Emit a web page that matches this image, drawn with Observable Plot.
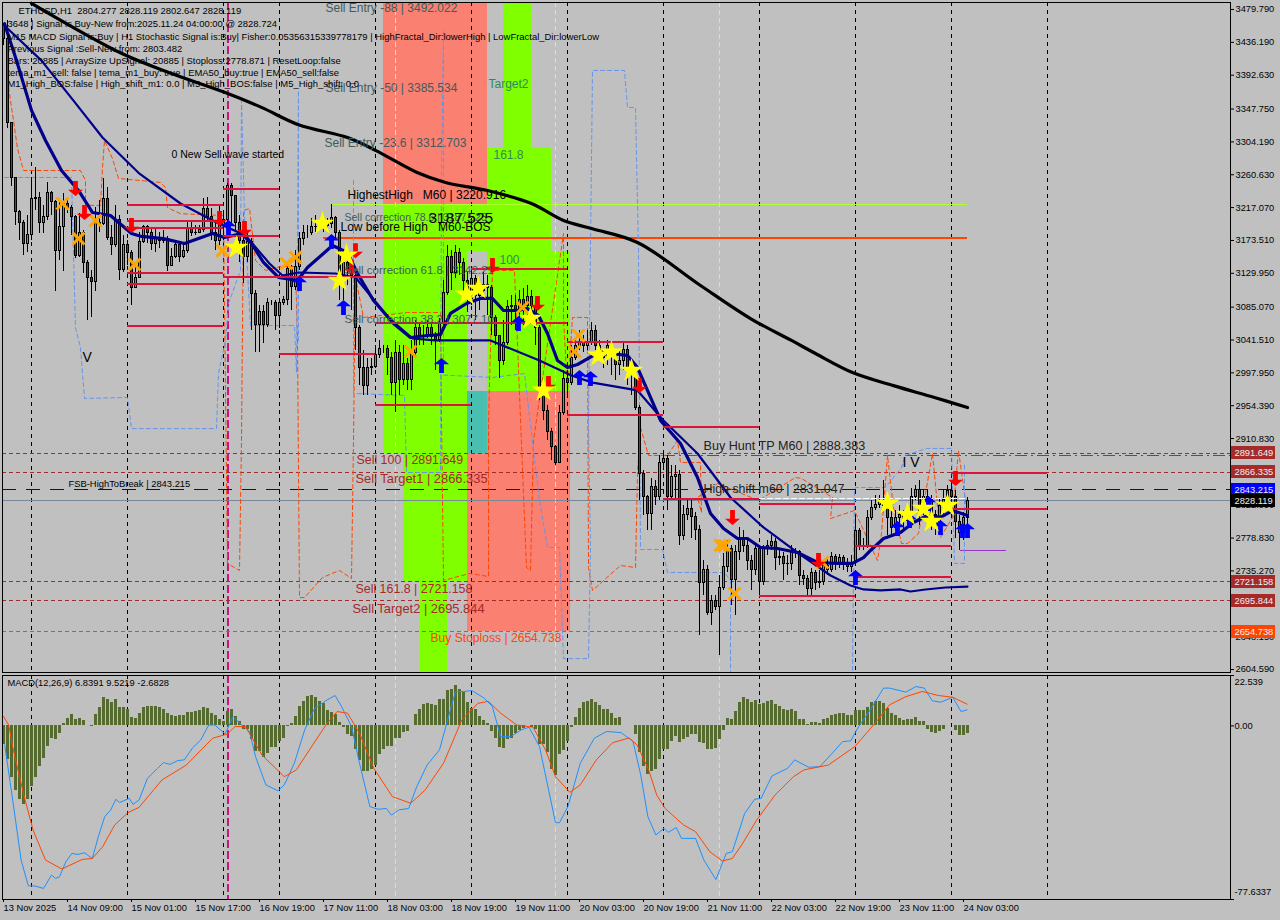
<!DOCTYPE html>
<html><head><meta charset="utf-8">
<script src="https://cdn.jsdelivr.net/npm/d3@7"></script>
<script src="https://cdn.jsdelivr.net/npm/@observablehq/plot@0.6"></script>
<style>
html,body{margin:0;padding:0;background:#c0c0c0;width:1280px;height:920px;overflow:hidden}
svg{display:block}
</style></head><body><div id="main"></div><div id="macd"></div>
<script>
const closes=[3441,3329,3256,3211,3196,3169,3181,3228,3230,3197,3205,3236,3225,3160,3191,3222,3216,3204,3153,3183,
3143,3124,3119,3197,3195,3229,3177,3167,3200,3134,3168,3157,3111,3124,3172,3191,3183,3169,3177,3173,
3176,3140,3152,3167,3151,3159,3189,3183,3184,3187,3215,3205,3184,3173,3193,3200,3246,3233,3197,3173,
3151,3171,3103,3061,3079,3061,3090,3090,3073,3090,3094,3136,3112,3138,3175,3184,3184,3191,3192,3192,
3193,3195,3203,3183,3123,3144,3134,3127,3058,3005,2981,3005,3006,3022,3030,3030,3017,2984,3024,2988,
3010,2988,3024,3058,3047,3047,3057,3045,3041,3063,3104,3151,3130,3157,3144,3120,3096,3123,3100,3107,
3114,3110,3071,3047,3014,3038,3085,3087,3078,3094,3087,3099,3087,3058,2975,2948,2920,2899,2879,2945,
2990,2984,3018,3034,3038,3034,3038,3053,3033,3028,3017,3034,3021,3008,3013,3028,3005,2994,2952,2864,
2833,2811,2847,2833,2879,2884,2833,2860,2862,2781,2809,2818,2807,2789,2719,2737,2680,2696,2687,2713,
2740,2765,2723,2760,2778,2769,2749,2736,2764,2720,2764,2769,2773,2752,2754,2745,2744,2760,2760,2729,
2725,2711,2733,2719,2720,2742,2736,2754,2746,2752,2746,2740,2746,2788,2769,2769,2806,2819,2823,2827,
2822,2806,2792,2805,2810,2802,2809,2833,2842,2815,2833,2829,2809,2793,2822,2829,2841,2833,2800,2786,
2805,2828.119];
const highs=[3459,3465,3329,3256,3213,3200,3207,3257,3270,3237,3220,3250,3238,3226,3226,3236,3226,3220,3207,3209,
3187,3147,3134,3217,3226,3256,3244,3193,3220,3207,3180,3173,3160,3140,3184,3193,3193,3189,3189,3184,
3187,3179,3163,3173,3168,3168,3197,3197,3193,3193,3229,3230,3216,3200,3220,3211,3249,3249,3233,3207,
3180,3187,3176,3107,3087,3087,3096,3094,3094,3096,3099,3144,3140,3160,3184,3193,3193,3203,3207,3200,
3207,3203,3221,3205,3187,3160,3153,3144,3136,3061,3028,3017,3017,3034,3041,3034,3034,3025,3041,3034,
3034,3017,3041,3067,3065,3061,3067,3065,3051,3070,3120,3167,3160,3167,3163,3150,3131,3134,3127,3120,
3131,3127,3114,3074,3047,3067,3094,3100,3100,3107,3110,3114,3107,3094,3061,2977,2955,2924,2902,2955,
3001,2998,3034,3043,3054,3047,3054,3065,3061,3041,3028,3041,3034,3028,3028,3038,3034,3012,2988,2955,
2868,2835,2858,2855,2888,2895,2888,2875,2875,2868,2822,2829,2829,2813,2796,2749,2742,2703,2703,2729,
2758,2776,2769,2769,2793,2789,2776,2756,2769,2769,2769,2776,2782,2778,2765,2760,2756,2769,2765,2762,
2736,2729,2738,2736,2736,2749,2752,2760,2757,2757,2756,2752,2756,2809,2792,2778,2815,2829,2835,2835,
2855,2829,2815,2815,2822,2815,2822,2845,2849,2855,2842,2842,2835,2815,2831,2842,2849,2855,2842,2809,
2813,2832];
const lows=[3432,3322,3245,3193,3173,3153,3157,3173,3213,3183,3183,3200,3207,3106,3147,3132,3209,3180,3150,3151,
3130,3067,3071,3106,3184,3193,3173,3153,3164,3120,3131,3140,3087,3110,3123,3169,3169,3160,3157,3163,
3169,3132,3139,3150,3144,3150,3156,3179,3180,3184,3184,3197,3173,3160,3167,3173,3193,3193,3187,3144,
3116,3144,3054,3025,3025,3037,3058,3087,3054,3057,3087,3087,3081,3107,3134,3167,3176,3180,3184,3187,
3184,3189,3189,3173,3094,3094,3114,3081,3028,2981,2968,2968,2994,3004,3017,3024,2994,2968,2945,2968,
2981,2975,2975,3021,3034,3034,3043,3034,3001,3038,3054,3100,3107,3123,3127,3094,3078,3087,3067,3081,
3100,3074,3047,3034,2990,3008,3034,3061,3054,3070,3061,3067,3067,3034,2961,2935,2908,2882,2875,2879,
2941,2968,2981,3014,3028,3025,3028,3034,3028,3017,3004,3008,2994,2988,2994,3001,2981,2968,2948,2829,
2809,2789,2789,2822,2829,2868,2815,2829,2829,2769,2776,2802,2778,2776,2650,2703,2676,2663,2683,2623,
2709,2733,2689,2676,2749,2760,2736,2709,2729,2703,2716,2756,2762,2736,2742,2723,2729,2736,2752,2716,
2716,2703,2703,2709,2712,2716,2729,2733,2736,2738,2736,2733,2733,2742,2762,2762,2765,2802,2815,2818,
2815,2782,2782,2789,2796,2789,2796,2802,2829,2796,2809,2796,2789,2782,2796,2809,2815,2815,2778,2762,
2776,2796];

const macdHist=[-8.5,-15,-23,-29,-33,-35,-33,-27,-23,-18,-14.5,-9,-5.5,-6,-3.6,1,3.4,5,3,3.3,
2.4,.4,-.3,5,8.4,12.5,11.6,10.4,12,8.2,8.2,7.2,3.7,3.3,5.7,8.2,8.5,8.5,8.5,8.4,
7.5,5.4,4.8,4.2,4.8,4.5,5.8,6,6.3,6.9,8.4,7.8,5.4,4.8,2.7,2,6.4,7.2,4.2,2,
-1.5,-1.8,-6.3,-11.5,-11.5,-14,-12.5,-9.5,-9.5,-7,-5.5,-.3,1.2,4.2,8.7,11,13,13.4,12.8,11,
10,7,6,5,1.5,-.6,-4,-4.8,-10.4,-15.5,-20.4,-20.4,-19.4,-17.5,-13,-10.7,-9,-9,-5.8,-5.5,
-3,-2.5,.4,5,7.5,9.5,9.8,9.5,9,11.6,11.6,15.8,16.4,18,16.4,15,10.4,8,7.2,4.2,
2.4,1.2,-2.5,-5.8,-9.5,-10.3,-6.3,-5.5,-3.3,-2,-1,.4,-.6,-1.5,-8.5,-8.5,-12,-19.4,-22,-13,
-11,-7,-.6,3.9,8,10.4,11,12,10.4,9,7.5,7.5,5.4,3.4,3.7,.4,.4,0,-3.7,-12,
-18,-21.6,-20.4,-19.7,-15.2,-10.7,-10.4,-7,-4.8,-7.5,-6.3,-5.2,-4,-4,-7.5,-8,-10.4,-10.4,-10.3,-6.3,
-2.2,3.4,3,6.6,10.4,12.5,12,10.4,11.2,9.4,10,10.7,11.2,9.5,8.7,7.2,6.7,7.2,6.6,3,
3,.7,1.6,1.5,.9,2.7,3.1,4.6,5,5.4,5.4,4.5,4.5,6.7,6.7,6.7,8.4,10.4,10.7,10.7,
10,8,5.4,4.5,3.1,2.5,2.7,3,3.7,2,1.8,-1.5,-3,-3.6,-2.7,-1.8,0,.3,-2.2,-4.5,
-4.2,-3.3];

const macdBars=[.3,2.3,4.4,6.2,7.9,10,12,13,14,15.6,17.1,18.6,20.2,22.2,23.7,25.3,26.8,28.1,29,31.4,32.4,33.9,36,38.5,40,41.6,43.6,45.2,47.2,49.3,51.3,52.8,55.4,57.4,59.5,61.5,63,65.6,68.6,70.2,72.7,75.3,77.8,80.9,82.9,84.5,87,89,91.6,93.6,95.7,97,98.8,101.3,103.3,105.9,109,111.5,113,115.1,117.1,120.2,122.2,124.3,126.8,129.4,131.4,134,138,139,141.1,144.2,147.7,150.8,154.4,157.4,159.3,161.1,163.1,165.1,166.2,168.2,169.5,173,175.1,178.1,180.7,182.2,185.3,187.8,189.4,192.1,196,197.8,201.3,204.1,207.2,209.8,211.8,213.8,216.4,220,221.5,225.6,228.1,230.2,232.2,234.3,237.3,239.4,240.9];
const macdVals=[-8.5,-33.1,-60,-71.5,-71.6,-72.7,-66.7,-68.2,-67.5,-60.7,-57,-57.5,-56.7,-59.3,-49.6,-40.6,-37.6,-32.8,-34.3,-32.4,-35.1,-33.1,-23.4,-19,-16.4,-17.2,-15.5,-15.2,-10,-6.3,.4,.4,-3.6,4.2,.4,-2.5,-13.7,-26.4,-29,-26.4,-16.7,-1.8,7.9,11.6,13.6,8.7,-.3,-16.7,-36.1,-37.3,-36.9,-39.9,-37.6,-36.9,-27.2,-17.5,-10.7,5.7,15.4,15.4,15.8,12.4,8.7,-4.8,-4.8,-1.8,-.6,-9.3,-43.3,-43.3,-36.1,-16.7,-5.5,-2.5,-3,-7,-21.9,-40.6,-48.8,-45.8,-47.6,-45.5,-50.3,-50.3,-60,-68.7,-57,-56.3,-39.1,-32.8,-32.4,-22.4,-19,-15.2,-18.5,-18.2,-12.2,-7,-6.7,-.3,6.4,16.9,16.9,15.1,17.6,16.9,11.2,10.6,12.8,6.4,7.2];
const signalBars=[0,1.3,2.3,3.8,5.4,7.4,10.5,14.6,19.7,22.2,24.8,27.8,31.1,33.9,39.6,45.7,52.3,55.9,57.9,60.5,64.6,70.2,73.2,77.3,80.9,83.4,86,89,92.6,97.2,101.8,105.4,110,114.6,118.6,121.2,124.3,128.3,132.4,135.5,138,141.6,144.2,148.2,152.3,156.4,158.4,161.3,163.3,165.4,170,173,176.6,179.7,182.2,184.8,188.3,192.9,197.5,200.1,206.2,212.8,217.9,221.5,225.6,229.7,233.7,237.3,240.9];
const signalVals=[4.2,.4,-9.3,-21.2,-33.1,-46.6,-60,-64,-59.7,-59.3,-54,-44.3,-38.8,-36.4,-24.2,-17.5,-5.5,-3.7,-.3,-.3,-13,-22.7,-19.7,-8.5,1.2,6.4,5.7,-3.3,-19,-31.6,-34.6,-28.7,-16.7,2.7,10.1,11,5.7,.4,-.6,-10.7,-22.7,-29.7,-26.4,-15.2,-7.5,-5.4,-8.5,-19.7,-30.9,-36.9,-44.3,-47.3,-56.3,-60.4,-59.3,-52.5,-42.1,-30.9,-22.7,-19.7,-17.5,-9.3,1.2,9.4,13.1,15.4,13.6,12.8,9.7];

const longMaBars=[7,29.75,42,55.25,64.5,73.75,86,93,103.25,110.5,120.75,132,140,147.25,158.5,174.25,186.75,197,203,212.25,222.5,232.75,241];
const longMaVals=[3488,3421,3395,3370,3350,3327,3310,3293,3264,3250.4,3240,3222.5,3200,3189,3170.8,3113.8,3070,3040.9,3023.6,2998.4,2981,2965.3,2952];
const midMaBars=[.75,9.5,17.5,24.75,34,44.25,53.25,60.5,66.5,69.75,73.75,83,88,96.25,102.25,107.75,121.75,134,142,147.25,158.5,165,173.5,181.75,190,198.5,206.75,211.75,215,219.25,224.25,226.75,230.5,235.5,241];
const midMaVals=[3456,3412,3359,3310,3262,3222.5,3197.3,3180,3143,3127,3131,3129.7,3124.4,3071.4,3043.5,3040.9,3040.9,3014.3,2994.5,2985,2974.6,2934.8,2891,2832.7,2793,2759.7,2729.2,2716,2710.7,2709.4,2710.7,2708,2710.7,2713.3,2714.6];
const fastMaBars=[.25,3.25,7,10.5,14.5,18.75,22.25,26.75,32,34.5,40,45.25,52.25,55.25,59.5,62,65,68.75,73.5,76,82.25,86,88.5,92.5,97.5,101.75,106,109.25,111.75,115.75,119.25,122.25,125,128.5,131,133.75,136,138.5,141,143.5,147.5,151.75,156,158.5,161,164.25,169.25,173.5,176.75,180,183.5,186,189.25,193.5,198.5,203.5,208.5,212.25,215,216.75,220,224.25,227.5,231,234.25,237.25,241];
const fastMaVals=[3461,3412,3346,3306,3266.3,3239.8,3210.6,3206.6,3182.7,3178.8,3176,3169.5,3182.7,3177.4,3182.7,3169.5,3144.3,3124.4,3120.4,3137.6,3166.8,3157.5,3129.7,3093.9,3063.4,3044.8,3047.5,3048.8,3076.7,3089.9,3096.6,3096.6,3080.6,3080.6,3083.3,3074,3050.1,3014.3,3005,3009,3021,3023.6,3021,3005,2974.6,2934.8,2904.3,2859.2,2811.4,2791.6,2778.3,2778.3,2766.4,2765,2759.7,2746.5,2745.2,2745.2,2753,2762.4,2778.3,2786.3,2799.5,2808.8,2806.2,2815.4,2808.8];
const orangeBars=[1,1.75,2.5,3.5,5,19.25,20.5,20.5,24.25,24.75,25.25,27.25,28.75,39.25,40.5,41,44.25,55,56,59,59.5,60,61.5,63,65.5,69.25,73,73.5,74,75.25,79.75,84,87,87.5,88,90,101,109.25,109.5,110,116.5,121.25,121.25,122.25,127.75,130.75,131.75,132.5,140,140,141,142.25,146,146.25,147.25,154.25,158,158.5,159.25,161.25,166,168.5,169.25,174.25,174.5,173.5,178.5,188.75,198,199.5,207.25,206.75,212.75,218.5,219.5,221,222.5,224.5,226,228.75,232.25,234.25,237.25,238.75,240.75];
const orangeVals=[3385.6,3359,3332.6,3295.5,3266.3,3266.3,3253,3220,3220,3270,3306,3282,3255.7,3250.4,3243.7,3217,3209,3206.6,2745,2735.9,2908.3,3213.2,3215.9,3147,3133.7,3139,3139,3040.9,2700,2700,2726.6,2735.9,2725.3,2908.3,3124.4,3071.4,3078,3078,2938.8,2722.6,2731.9,2727.9,2930.8,3133.7,3133.7,2739.8,2735.9,2908.3,3182.7,3071.4,2974.6,3071.4,3071.4,2739.8,2709.4,2742.5,2739.8,2864.5,2925.5,2888.4,2888.4,2908.3,2879,2879,2812.8,2832.7,2851.2,2828.7,2859.2,2857.9,2832.7,2804.8,2815.4,2749,2784.9,2888.4,2819.4,2771.7,2771.7,2784.9,2891,2779.6,2806.2,2895,2819.4];
const blueStepBars=[.25,17,17.5,18,19.25,20.25,31,32,53.25,53.75,55.5,56.25,59.25,59.5,60.25,61.75,72.75,73.25,73.75,73.75,null,87.5,87.5,100.25,100.75,109.25,109.5,110,110,122.25,130.25,134,136,139,140,146.25,146.75,146.25,147.25,155.25,156,158,158.75,159.25,164.75,166,180.25,181.75,181.75,null,212.25,212.75,213,220.5,224.5,225.5,230.75,237,237.75,240.25,240.25];
const blueStepVals=[3257,3257,3156.2,3058,3031.6,2964,2965.3,2924,2924,2997,3040.9,3090,3133.7,3359,3206.6,3060.7,3060.7,2998.4,3372.4,3040.9,null,3253,2970.6,2967.9,2865.8,2865.8,3259.7,3452,2995,2991.8,2997,2828.7,2766.4,2766.4,2619,2619,2766.4,2930.8,3398.9,3398.9,3349.8,3349.8,3160,2763.7,2763.7,2733.2,2733.2,2722.6,2600.6,null,2603.3,2841.9,2845.9,2845.9,2872.4,2888.4,2897.7,2897.7,2745.2,2745.2,2877.7];

const zoneBar1=[95,100,104.25,95,116,121,116,116,121,125,121,100];
const zoneBar2=[121,116,111,100,121,141.75,141.75,121,137,132,141.75,116];
const zoneHigh=[3489,3220.9,2721.158,3220.9,3220.9,2973,2891.649,2973,3295.5,3489,3159,2891.649];
const zoneLow=[3220.9,2721.158,2600.6,2891.649,3159,2891.649,2654.738,2891.649,3159,3295.5,2973,2721.158];
const zoneKind=["sell","buy","buy","buy","buy","sell","sell","both","buy","buy","buy","buy"];

const dayBars=[7,31,55,69,93,117,141,165,189,213,237,261];
const cyanBars=[98,138,179];
const magentaBars=[56];

const segStart=[31,31,31,31,31,31,55,55,55,69,93,93,117,141,141,165,165,189,189,213,213,237,237];
const segEnd=[55,55,55,55,55,55,69,69,93,93,117,141,141,165,165,189,189,213,213,237,237,261,261];
const segPrice=[3220,3198.7,3189.4,3129.7,3116.4,3060.7,3242.4,3178.8,3125.7,3023.6,2954.7,3063.4,3136.3,3038.2,2942.7,2925.5,2831.3,2824.7,2702.7,2767.7,2726.6,2865.8,2816.8];

const starBars=[79.75,58.25,85.75,84,118.75,115.75,131.75,135,148.75,152,157,221,226,230,232,236];
const starVals=[3196,3164,3153.6,3120.4,3109.8,3101.9,3070,2974.6,3021,3025,3001,2824.7,2810,2818,2800.8,2822];
const crossBars=[14.75,18.75,23,32.75,54.75,70.75,73,101.75,129.75,143.75,142.75,180.25,179.25,182.75,204.75];
const crossVals=[3222.5,3176,3200,3141.6,3160,3143,3151,3026.3,3084.6,3047.5,3026.3,2769,2769,2705.4,2746.5];
const downBars=[18,20.25,32,54,60.25,88,87,122.25,133.5,136.25,159,182.25,203.75,238];
const downVals=[3242.4,3210.6,3193.4,3202.6,3189.4,3160,3137.6,3140.3,3090,2983.8,2981.2,2806.2,2749,2857.9];
const upBars=[56.25,74,82,85,109.5,128.75,144,146.75,213,223.5,226.5,231.25,234.25,241,239.75];
const upVals=[3190.7,3116.4,3172,3084.6,3007.7,3063.4,2991.8,2990.5,2726.6,2791.6,2802,2824.7,2793,2789,2789];

const priceTicks=[3479.79,3436.19,3392.63,3347.75,3304.19,3260.63,3217.07,3173.51,3129.95,3085.07,3041.51,2997.95,2954.39,2910.83,2866.27,2822.99,2778.83,2735.27,2691.71,2648.15,2604.59];
const boxPrices=[2891.649,2866.335,2843.215,2828.119,2721.158,2695.844,2654.738];
const boxColors=["#a52a2a","#a52a2a","#0000ff","#000000","#a52a2a","#a52a2a","#ff4500"];
const timeLabels=["13 Nov 2025","14 Nov 09:00","15 Nov 01:00","15 Nov 17:00","16 Nov 19:00","17 Nov 11:00","18 Nov 03:00","18 Nov 19:00","19 Nov 11:00","20 Nov 03:00","20 Nov 19:00","21 Nov 11:00","22 Nov 03:00","22 Nov 19:00","23 Nov 11:00","24 Nov 03:00"];

const infoLines=["ETHUSD,H1  2804.277 2828.119 2802.647 2828.119","3648 | Signal is Buy-New from:2025.11.24 04:00:00 @ 2828.724","M15 MACD Signal is:Buy | H1 Stochastic Signal is:Buy| Fisher:0.05356315339778179 | HighFractal_Dir:lowerHigh | LowFractal_Dir:lowerLow","Previous Signal :Sell-New from: 2803.482","Bars: 20885 | ArraySize UpSignal: 20885 | Stoploss:2778.871 | ResetLoop:false","tema_m1_sell: false | tema_m1_buy: true | EMA50_buy:true | EMA50_sell:false","M1_High_BOS:false | High_shift_m1: 0.0 | M5_High_BOS:false | M5_High_shift: 0.0"];
const infoBars=[3.75,1,1,1,1,1,1];
const infoVals=[3478.4,3461,3444,3428,3412,3396,3381.6];

const labelText=["Sell Entry -88 | 3492.022","Sell Entry -50 | 3385.534","Sell Entry -23.6 | 3312.703","Target2","161.8","100","0 New Sell wave started","HighestHigh   M60 | 3220.916","Sell correction 78.6 | 3187.525","3187.525","Low before High   M60-BOS","Sell correction 61.8 | 3142.21","Sell correction 38.2 | 3077.10","V","I V","FSB-HighToBreak | 2843.215","Sell 100 | 2891.649","Sell Target1 | 2866.335","Sell 161.8 | 2721.158","Sell Target2 | 2695.844","Buy Stoploss | 2654.738","Buy Hunt TP M60 | 2888.383","High shift m60 | 2831.047"];
const labelBars=[80.5,80.5,80.25,121.25,122.5,124,42,86,85.25,106.25,84.25,85.25,85.25,19.75,224.75,16.25,88.25,88,88,87.25,106.75,175,175];
const labelVals=[3481,3375,3302,3380.3,3286,3148,3287,3233,3204,3203,3191,3134,3069,3018,2879,2850,2882,2857,2711,2685.5,2645.7,2901.6,2843.3];
const labelColors=["#3e5c5c","#3e5c5c","#3e5c5c","#2e8b57","#2e8b57","#2e8b57","#000","#000","#3e5c5c","#000","#000","#3e5c5c","#3e5c5c","#000","#000","#000","#a52a2a","#a52a2a","#a52a2a","#a52a2a","#ff4500","#222","#222"];
const labelSizes=[12,12,12,12,12,12,10.5,12,10.5,15.5,12,11.5,11.5,14,14,9.4,12.4,12.9,12.4,12.9,12.1,12.6,12.4];

const FONT="Liberation Sans";
const pts=(bs,vs)=>bs.map((b,i)=>({b,v:vs[i]}));
const candles=closes.map((c,i)=>({i,o:i?closes[i-1]:3459,c,h:Math.max(highs[i],c,i?closes[i-1]:c),l:Math.min(lows[i],c,i?closes[i-1]:c)}));
const xDomain=[-0.25,306.75];
const fatArrow={draw(c,l){const s=l*.16,h=l*.42,w=l*.5;c.moveTo(-s,0);c.lineTo(s,0);c.lineTo(s,-l+h);c.lineTo(w,-l+h);c.lineTo(0,-l);c.lineTo(-w,-l+h);c.lineTo(-s,-l+h);c.closePath();}};

const mainPlot=Plot.plot({
  width:1280,height:674,marginTop:2,marginBottom:2,marginLeft:2,marginRight:50,
  x:{domain:xDomain,axis:null},
  y:{domain:[2600.6,3489.05]},
  style:{fontFamily:FONT,fontSize:"10px",background:"#c0c0c0",color:"#000"},
  marks:[
    Plot.rect(zoneKind.map((k,i)=>({k,a:zoneBar1[i],b:zoneBar2[i],h:zoneHigh[i],l:zoneLow[i]})),
      {x1:"a",x2:"b",y1:"l",y2:"h",fill:d=>d.k==="buy"?"#7fff00":d.k==="sell"?"#fa8072":"#48bfb0",shapeRendering:"crispEdges"}),
    Plot.ruleX(dayBars,{stroke:"#000",strokeDasharray:"4,4",shapeRendering:"crispEdges"}),
    Plot.ruleX(cyanBars,{stroke:"#bde8e8",strokeDasharray:"5,3",shapeRendering:"crispEdges"}),
    Plot.ruleX(magentaBars,{stroke:"#c71585",strokeWidth:2,strokeDasharray:"8,3",shapeRendering:"crispEdges"}),
    Plot.ruleY([2891.649,2866.335,2721.158,2695.844],{stroke:"#a52a2a",strokeDasharray:"4,3",shapeRendering:"crispEdges"}),
    Plot.ruleY([2654.738],{stroke:"#ff4500",strokeWidth:1.3,strokeDasharray:"4,3",shapeRendering:"crispEdges"}),
    Plot.ruleY([2828.119],{stroke:"#778899",shapeRendering:"crispEdges"}),
    Plot.ruleY([2843.215],{stroke:"#0000cd",strokeDasharray:"14,10",shapeRendering:"crispEdges"}),
    Plot.ruleY([2888.383],{x1:165,x2:306.75,stroke:"#dc143c",strokeWidth:1.5,strokeDasharray:"12,4,2,4",shapeRendering:"crispEdges"}),
    Plot.ruleY([3220.916],{x1:82,x2:241,stroke:"#adff2f",strokeWidth:1.5,shapeRendering:"crispEdges"}),
    Plot.ruleY([3177.4],{x1:80,x2:241,stroke:"#ff4500",strokeWidth:2,shapeRendering:"crispEdges"}),
    Plot.ruleY([2762.4],{x1:239.25,x2:250.75,stroke:"#9932cc",shapeRendering:"crispEdges"}),
    Plot.line(pts(orangeBars,orangeVals),{x:"b",y:"v",stroke:"#ff4500",strokeWidth:1,strokeDasharray:"4,3"}),
    Plot.line(pts(blueStepBars,blueStepVals),{x:"b",y:"v",stroke:"#6495ed",strokeWidth:1,strokeDasharray:"4,3"}),
    Plot.ruleX(candles,{x:"i",y1:"l",y2:"h",stroke:"#000",shapeRendering:"crispEdges"}),
    Plot.rect(candles,{x1:d=>d.i-.25,x2:d=>d.i+.25,y1:"o",y2:"c",fill:d=>d.c>=d.o?"#3cb371":"#c8143c",stroke:"#000",shapeRendering:"crispEdges"}),
    Plot.line(pts(longMaBars,longMaVals),{x:"b",y:"v",stroke:"#000",strokeWidth:3.2,curve:"catmull-rom"}),
    Plot.line(pts(midMaBars,midMaVals),{x:"b",y:"v",stroke:"#00008b",strokeWidth:2.2}),
    Plot.line(pts(fastMaBars,fastMaVals),{x:"b",y:"v",stroke:"#00008b",strokeWidth:3.2}),
    Plot.ruleY(segPrice.map((p,i)=>({p,a:segStart[i],b:segEnd[i]})),{y:"p",x1:"a",x2:"b",stroke:"#dc143c",strokeWidth:2,shapeRendering:"crispEdges"}),
    Plot.ruleY([2831.047],{x1:189,x2:241,stroke:"#fff",strokeDasharray:"6,2",shapeRendering:"crispEdges"}),
    Plot.dot(pts(crossBars,crossVals),{x:"b",y:"v",symbol:"times",r:5.5,stroke:"#ffa500",strokeWidth:3}),
    Plot.vector(pts(downBars,downVals),{x:"b",y:"v",rotate:180,length:15,anchor:"middle",shape:fatArrow,fill:"#ff0000",stroke:"none"}),
    Plot.vector(pts(upBars,upVals),{x:"b",y:"v",rotate:0,length:15,anchor:"middle",shape:fatArrow,fill:"#0000ff",stroke:"none"}),
    Plot.dot(pts(starBars,starVals),{x:"b",y:"v",symbol:"star",r:6,fill:"#ffff00",stroke:"#ffff00"}),
    Plot.text(labelText.map((t,i)=>({t,b:labelBars[i],v:labelVals[i],c:labelColors[i],s:labelSizes[i]})),
      {x:"b",y:"v",text:"t",fill:"c",fontSize:"s",textAnchor:"start",lineAnchor:"middle"}),
    Plot.text(infoLines.map((t,i)=>({t,b:infoBars[i],v:infoVals[i]})),
      {x:"b",y:"v",text:"t",fill:"#000",fontSize:9.45,textAnchor:"start",lineAnchor:"middle"}),
    Plot.axisY({anchor:"right",ticks:priceTicks,tickFormat:d3.format(".3f"),tickSize:3,tickPadding:2,label:null,fontSize:9.3}),
    Plot.rect(boxPrices.map((p,i)=>({p,c:boxColors[i]})),{x1:307,x2:318,y1:d=>d.p-8.6,y2:d=>d.p+8.6,fill:"c",shapeRendering:"crispEdges"}),
    Plot.text(boxPrices,{x:307.75,y:d=>d,text:d=>d3.format(".3f")(d),fill:"#f0f0f0",fontSize:9.3,textAnchor:"start",lineAnchor:"middle"}),
    Plot.frame({stroke:"#000"})
  ]
});
document.getElementById("main").append(mainPlot);

const macdPlot=Plot.plot({
  width:1280,height:246,marginTop:1,marginBottom:21,marginLeft:2,marginRight:50,
  x:{domain:xDomain,axis:null},
  y:{domain:[-77.6337,22.539]},
  style:{fontFamily:FONT,fontSize:"10px",background:"#c0c0c0",color:"#000"},
  marks:[
    Plot.ruleX(dayBars,{stroke:"#000",strokeDasharray:"4,4",shapeRendering:"crispEdges"}),
    Plot.ruleX(cyanBars,{stroke:"#bde8e8",strokeDasharray:"5,3",shapeRendering:"crispEdges"}),
    Plot.ruleX(magentaBars,{stroke:"#c71585",strokeWidth:2,strokeDasharray:"8,3",shapeRendering:"crispEdges"}),
    Plot.rect(macdHist.map((v,i)=>({i,v})),{x1:d=>d.i-.375,x2:d=>d.i+.375,y1:0,y2:"v",fill:"#556b2f",shapeRendering:"crispEdges"}),
    Plot.line(pts(macdBars,macdVals),{x:"b",y:"v",stroke:"#1e90ff",strokeWidth:1}),
    Plot.line(pts(signalBars,signalVals),{x:"b",y:"v",stroke:"#ff4500",strokeWidth:1}),
    Plot.text(["MACD(12,26,9) 6.8391 9.5219 -2.6828"],{x:1,y:19.05,text:d=>d,fontSize:9.35,textAnchor:"start",lineAnchor:"middle"}),
    Plot.axisY({anchor:"right",ticks:[22.539,0,-77.6337],tickFormat:()=>"",tickSize:3,label:null}),
    Plot.text([22.539],{x:307.75,y:d=>d,text:()=>"22.539",dy:7,fontSize:9.3,textAnchor:"start",lineAnchor:"middle"}),
    Plot.text([0],{x:307.75,y:d=>d,text:()=>"0.00",fontSize:9.3,textAnchor:"start",lineAnchor:"middle"}),
    Plot.text([-77.6337],{x:307.75,y:d=>d,text:()=>"-77.6337",dy:-7,fontSize:9.3,textAnchor:"start",lineAnchor:"middle"}),
    Plot.axisX({anchor:"bottom",ticks:timeLabels.map((_,i)=>i*16),tickFormat:b=>timeLabels[b/16],tickSize:3,tickPadding:2,label:null,textAnchor:"start",fontSize:9.3}),
    Plot.frame({stroke:"#000"})
  ]
});
document.getElementById("macd").append(macdPlot);
</script></body></html>
